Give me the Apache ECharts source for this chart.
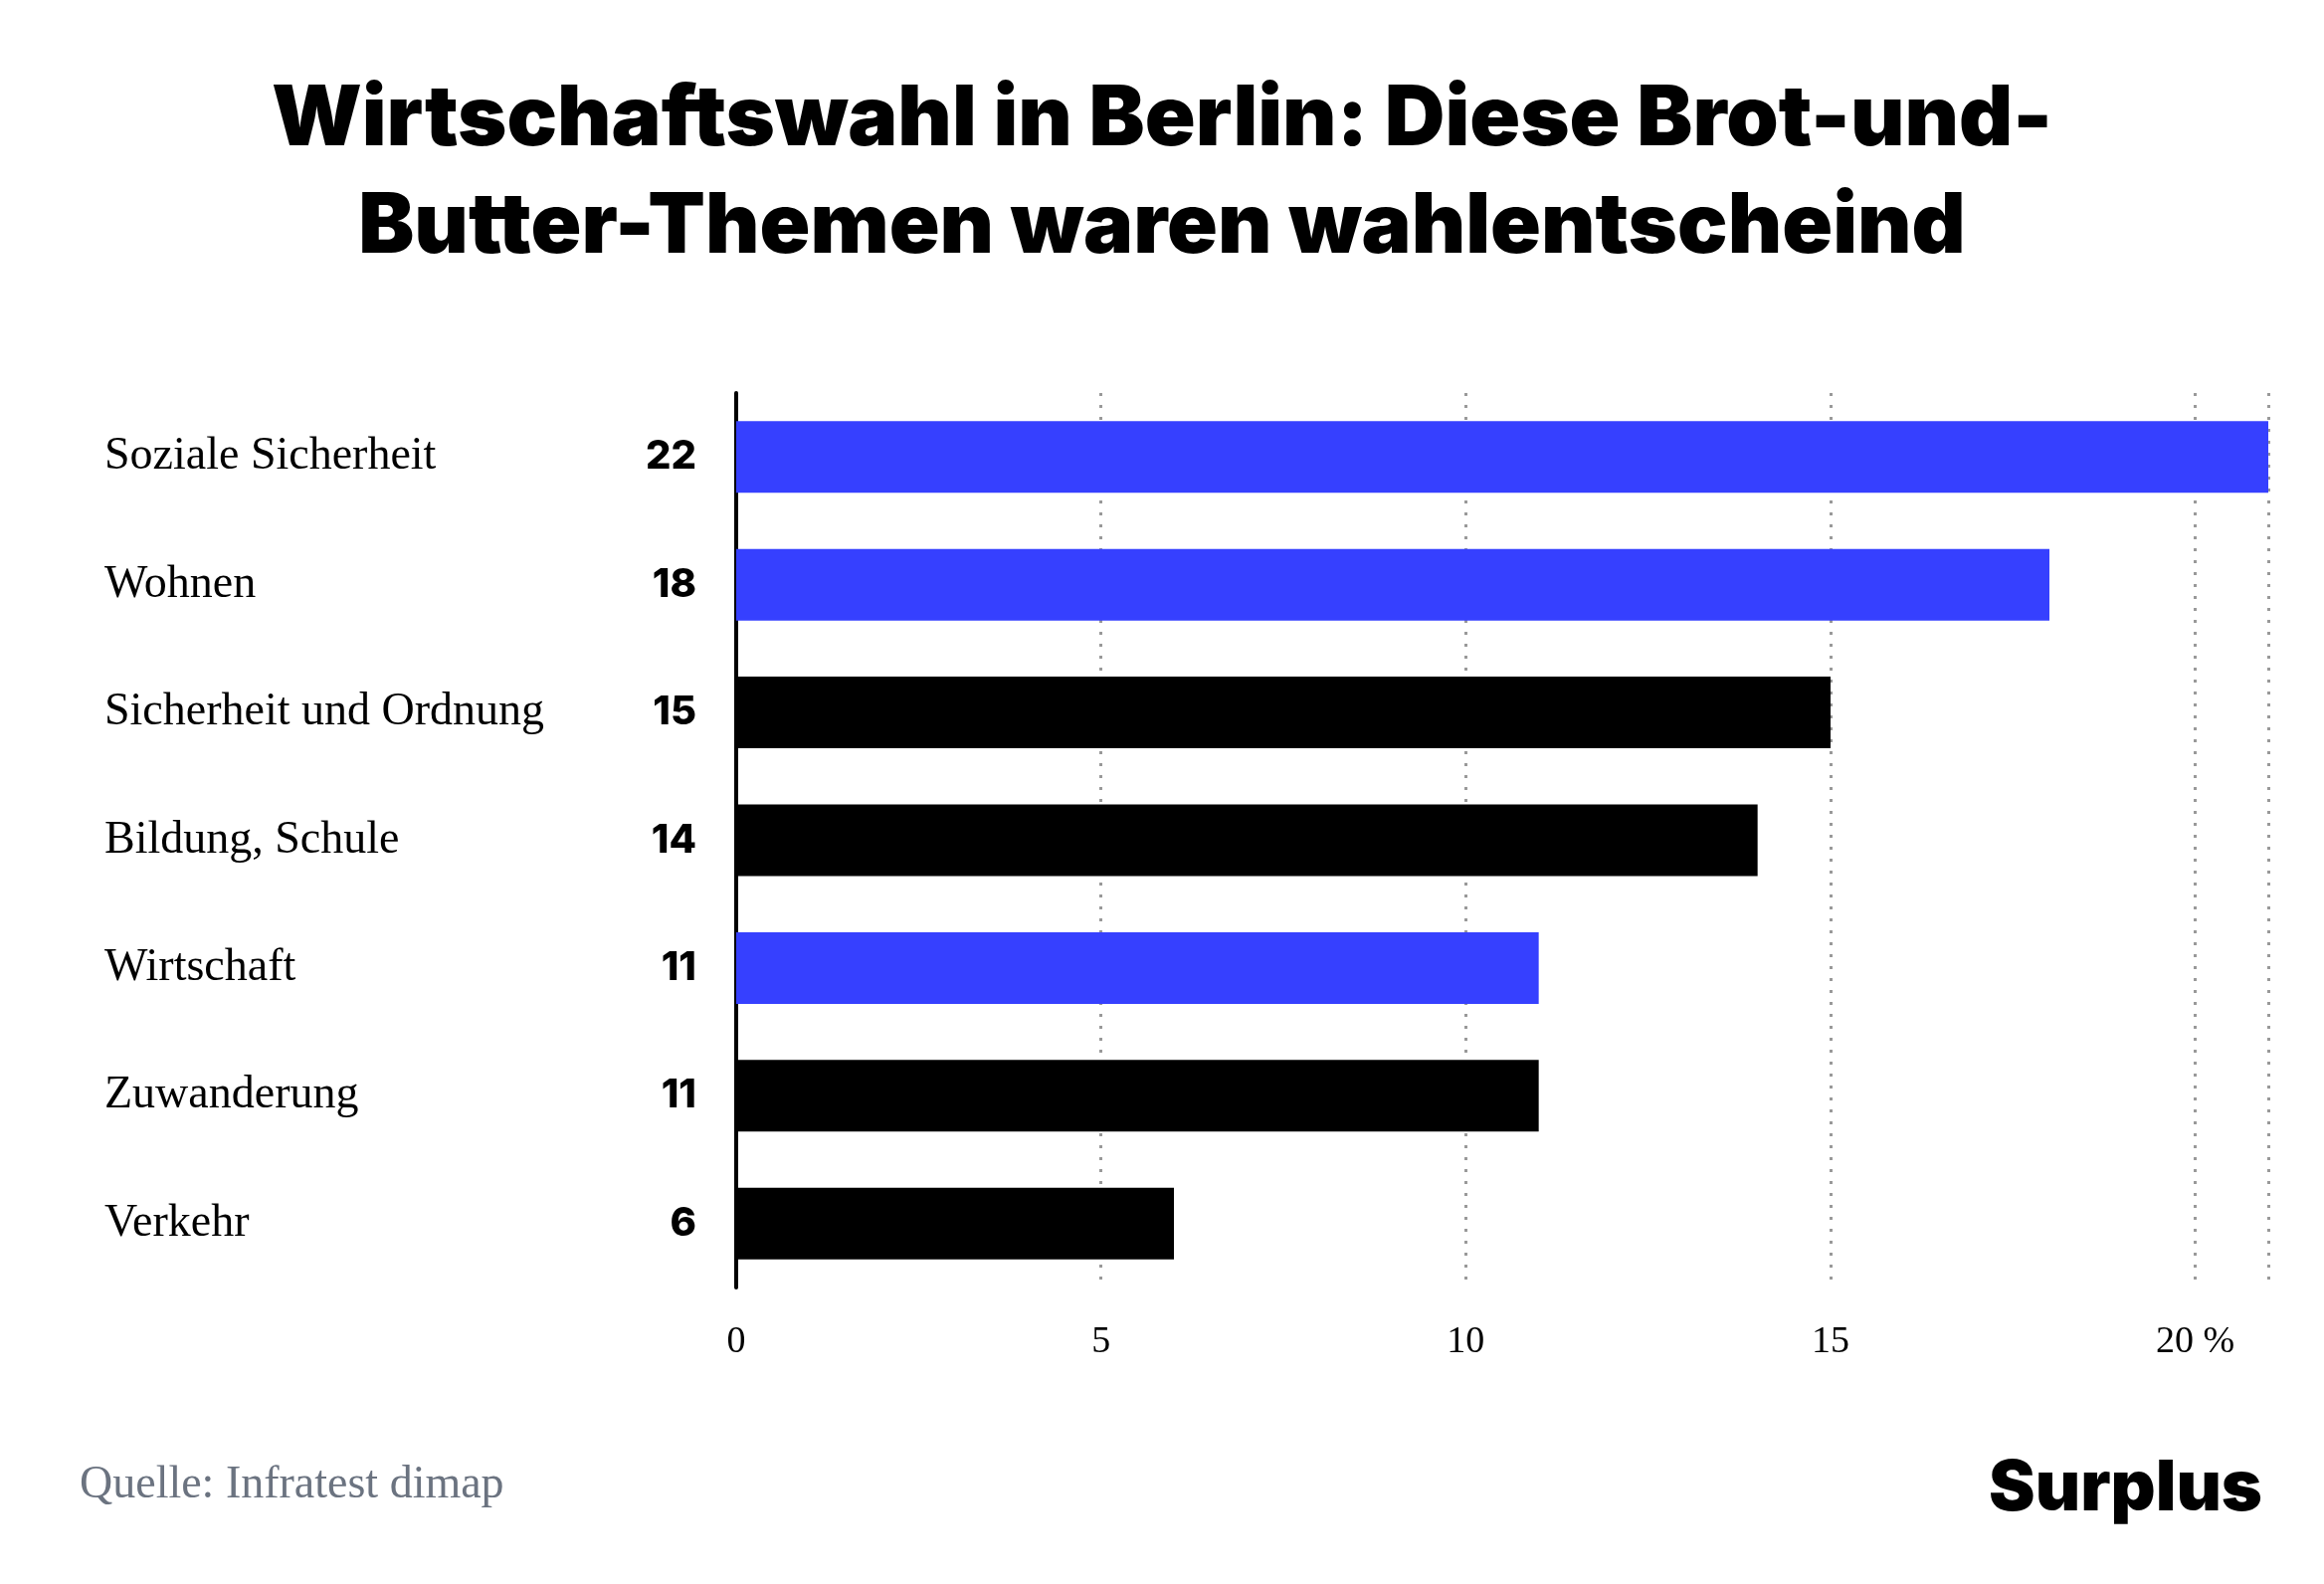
<!DOCTYPE html>
<html><head><meta charset="utf-8">
<script src="https://cdn.jsdelivr.net/npm/echarts@6/dist/echarts.min.js"></script>
<style>html,body{margin:0;padding:0;background:#fff}#c{width:2336px;height:1592px}</style>
</head><body><div id="c"></div>
<script>
const categories = ["Soziale Sicherheit","Wohnen","Sicherheit und Ordnung","Bildung, Schule","Wirtschaft","Zuwanderung","Verkehr"];
const values = [22,18,15,14,11,11,6];
const highlighted = [true,true,false,false,true,false,false];
const ticks = [0,5,10,15,20];

const chart = echarts.init(document.getElementById('c'));
chart.setOption({
  backgroundColor:'#fff',
  animation:false,
  title:{
    text:'Wirtschaftswahl in Berlin: Diese Brot-und-\nButter-Themen waren wahlentscheind',
    left:'center', top:62,
    textStyle:{fontFamily:'Inter, Roboto, sans-serif',fontWeight:900,fontSize:84,lineHeight:108,color:'#000'}
  },
  graphic:[
    {type:'text',left:80,top:1470,style:{text:'Quelle: Infratest dimap',font:'46px "Liberation Serif", serif',fill:'#6b7380'}},
    {type:'text',right:62,top:1462,style:{text:'Surplus',font:'900 70px Inter, Roboto, sans-serif',fill:'#000'}}
  ],
  grid:{left:740,right:56,top:395,bottom:298,containLabel:false},
  xAxis:{
    type:'value',min:0,max:21,interval:5,
    axisLine:{show:false},axisTick:{show:false},
    splitLine:{show:true,lineStyle:{type:[3,9],color:'#999',width:3}},
    axisLabel:{margin:36,fontFamily:'"Liberation Serif", serif',fontSize:38,color:'#000',
      formatter:v=>v===20?'20 %':(ticks.includes(v)?String(v):'')},
    showMaxLabel:false
  },
  yAxis:{
    type:'category',inverse:true,data:categories,
    axisLine:{show:true,lineStyle:{color:'#000',width:4}},
    axisTick:{show:false},
    axisLabel:{align:'left',margin:635,fontFamily:'"Liberation Serif", serif',fontSize:46,color:'#000'}
  },
  series:[{
    type:'bar',barWidth:72,clip:true,
    data:values.map((v,i)=>({value:v,itemStyle:{color:highlighted[i]?'#3640ff':'#000'}})),
    label:{show:true,position:'left',distance:40,fontFamily:'Inter, Roboto, sans-serif',fontWeight:800,fontSize:40,color:'#000'}
  }]
});
</script></body></html>
